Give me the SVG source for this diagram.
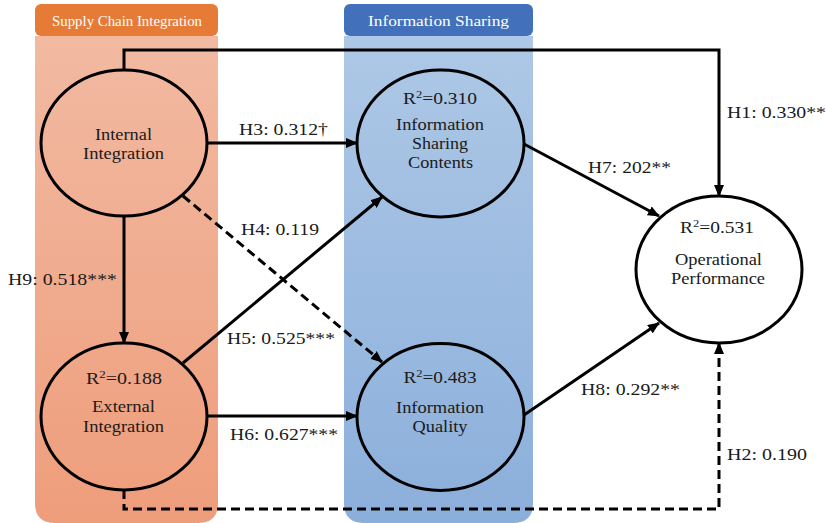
<svg xmlns="http://www.w3.org/2000/svg" width="826" height="523" viewBox="0 0 826 523">
<style>
text{font-family:"Liberation Serif","Times New Roman",serif;fill:#1a1a1a}
.hdr{font-size:14px;fill:#ffffff;text-anchor:middle}
.nd{font-size:16px;text-anchor:middle}
.r2{font-size:17px;text-anchor:middle}
.lb{font-size:17px}
.sup{font-size:11px}
.ell{fill:none;stroke:#000;stroke-width:3}
.ln{fill:none;stroke:#000;stroke-width:3}
.dash{stroke-dasharray:9 5}
</style>
<defs>
<linearGradient id="gOr" x1="0" y1="0" x2="0" y2="1">
<stop offset="0" stop-color="#F2BAA2"/>
<stop offset="1" stop-color="#EE9D7B"/>
</linearGradient>
<linearGradient id="gBl" x1="0" y1="0" x2="0" y2="1">
<stop offset="0" stop-color="#AEC8E6"/>
<stop offset="1" stop-color="#8BAFDB"/>
</linearGradient>
<marker id="ah" markerUnits="userSpaceOnUse" viewBox="0 0 12 10" markerWidth="12" markerHeight="10" refX="11" refY="5" orient="auto">
<path d="M0,0 L12,5 L0,10 Z" fill="#000"/>
</marker>
</defs>

<g id="panel-sci">
<path d="M35,36 H218 V503 Q218,523 198,523 H55 Q35,523 35,503 Z" fill="url(#gOr)"/>
<rect x="35" y="4" width="183" height="32" rx="6" fill="#E57B36"/>
<text class="hdr" x="127" y="26" textLength="150" lengthAdjust="spacingAndGlyphs">Supply Chain Integration</text>
</g>
<g id="panel-is">
<path d="M344,36 H533 V503 Q533,523 513,523 H364 Q344,523 344,503 Z" fill="url(#gBl)"/>
<rect x="344" y="4" width="189" height="32" rx="6" fill="#4270BA"/>
<text class="hdr" x="438.5" y="26" textLength="141" lengthAdjust="spacingAndGlyphs">Information Sharing</text>
</g>

<g id="connectors">
<polyline id="H1" class="ln" points="124,70 124,50 719,50 719,196" marker-end="url(#ah)"/>
<line id="H3" class="ln" x1="207" y1="143" x2="357" y2="143" marker-end="url(#ah)"/>
<line id="H4" class="ln dash" x1="183" y1="196" x2="382" y2="362" marker-end="url(#ah)"/>
<line id="H5" class="ln" x1="183" y1="363" x2="382" y2="197" marker-end="url(#ah)"/>
<line id="H6" class="ln" x1="207" y1="416" x2="357" y2="416" marker-end="url(#ah)"/>
<line id="H9" class="ln" x1="124" y1="216" x2="124" y2="343" marker-end="url(#ah)"/>
<line id="H7" class="ln" x1="524" y1="144" x2="659" y2="216" marker-end="url(#ah)"/>
<line id="H8" class="ln" x1="524" y1="415" x2="659" y2="323" marker-end="url(#ah)"/>
<polyline id="H2" class="ln dash" points="124,490 124,509 719,509 719,343" marker-end="url(#ah)"/>
<text class="lb" x="727" y="118" textLength="99" lengthAdjust="spacingAndGlyphs">H1: 0.330**</text>
<text class="lb" x="239" y="135" textLength="89" lengthAdjust="spacingAndGlyphs">H3: 0.312†</text>
<text class="lb" x="241" y="235" textLength="78" lengthAdjust="spacingAndGlyphs">H4: 0.119</text>
<text class="lb" x="227" y="344" textLength="108" lengthAdjust="spacingAndGlyphs">H5: 0.525***</text>
<text class="lb" x="230" y="440" textLength="108" lengthAdjust="spacingAndGlyphs">H6: 0.627***</text>
<text class="lb" x="8" y="285" textLength="109" lengthAdjust="spacingAndGlyphs">H9: 0.518***</text>
<text class="lb" x="588" y="173" textLength="83" lengthAdjust="spacingAndGlyphs">H7: 202**</text>
<text class="lb" x="581" y="395" textLength="99" lengthAdjust="spacingAndGlyphs">H8: 0.292**</text>
<text class="lb" x="727" y="460" textLength="80" lengthAdjust="spacingAndGlyphs">H2: 0.190</text>
</g>

<g id="internal-integration">
<ellipse class="ell" cx="124" cy="143" rx="83" ry="73"/>
<text class="nd" x="123.5" y="140" textLength="57" lengthAdjust="spacingAndGlyphs">Internal</text>
<text class="nd" x="123.5" y="159" textLength="81" lengthAdjust="spacingAndGlyphs">Integration</text>
</g>
<g id="external-integration">
<ellipse class="ell" cx="124" cy="416.5" rx="83" ry="73.5"/>
<text class="r2" x="124" y="384" textLength="76" lengthAdjust="spacingAndGlyphs">R<tspan class="sup" dy="-6">2</tspan><tspan dy="6">=0.188</tspan></text>
<text class="nd" x="123.5" y="412" textLength="63" lengthAdjust="spacingAndGlyphs">External</text>
<text class="nd" x="123.5" y="432" textLength="81" lengthAdjust="spacingAndGlyphs">Integration</text>
</g>
<g id="information-sharing-contents">
<ellipse class="ell" cx="440.5" cy="143.5" rx="83.5" ry="73.5"/>
<text class="r2" x="440" y="104" textLength="74" lengthAdjust="spacingAndGlyphs">R<tspan class="sup" dy="-6">2</tspan><tspan dy="6">=0.310</tspan></text>
<text class="nd" x="440" y="130" textLength="88" lengthAdjust="spacingAndGlyphs">Information</text>
<text class="nd" x="440" y="149" textLength="56" lengthAdjust="spacingAndGlyphs">Sharing</text>
<text class="nd" x="440.5" y="168" textLength="65" lengthAdjust="spacingAndGlyphs">Contents</text>
</g>
<g id="information-quality">
<ellipse class="ell" cx="440.5" cy="417" rx="83.5" ry="73.5"/>
<text class="r2" x="440" y="383" textLength="73" lengthAdjust="spacingAndGlyphs">R<tspan class="sup" dy="-6">2</tspan><tspan dy="6">=0.483</tspan></text>
<text class="nd" x="440" y="413" textLength="88" lengthAdjust="spacingAndGlyphs">Information</text>
<text class="nd" x="440" y="432" textLength="55" lengthAdjust="spacingAndGlyphs">Quality</text>
</g>
<g id="operational-performance">
<ellipse class="ell" cx="719" cy="269.5" rx="83" ry="73.5" style="fill:#fff"/>
<text class="r2" x="717" y="233" textLength="74" lengthAdjust="spacingAndGlyphs">R<tspan class="sup" dy="-6">2</tspan><tspan dy="6">=0.531</tspan></text>
<text class="nd" x="718.5" y="265" textLength="87" lengthAdjust="spacingAndGlyphs">Operational</text>
<text class="nd" x="718" y="284" textLength="94" lengthAdjust="spacingAndGlyphs">Performance</text>
</g>
</svg>
